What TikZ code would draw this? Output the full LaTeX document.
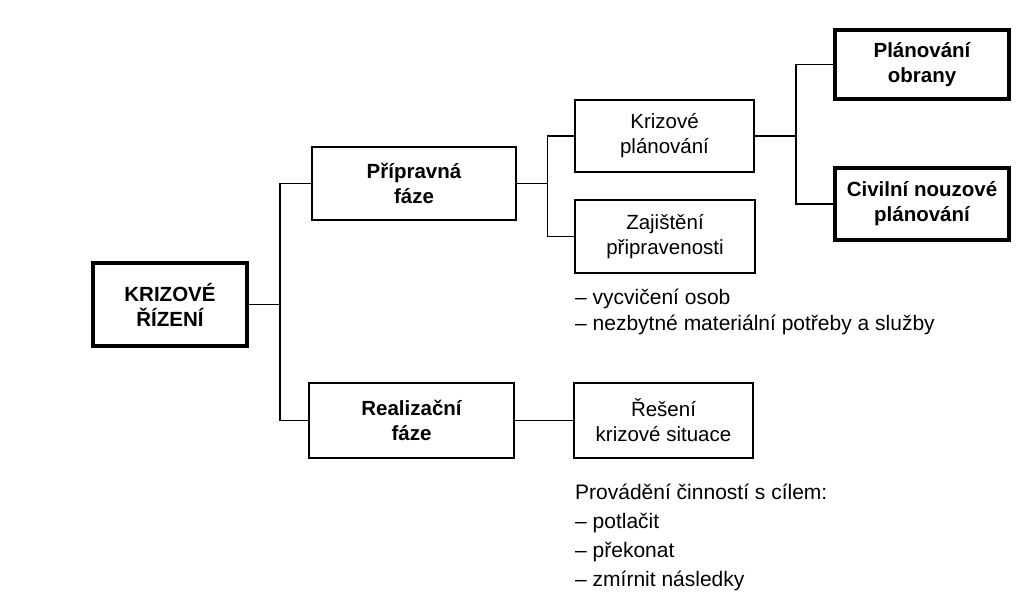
\documentclass[tikz,border=0pt]{standalone}
\usepackage{fontspec}
\setmainfont{Liberation Sans}
\begin{document}
\begin{tikzpicture}[x=1pt, y=-1pt,
    box/.style={draw, line width=2pt, align=center, inner sep=0pt,
                font=\fontsize{20.5}{25}\selectfont},
    phasebox/.style={box, line width=2.6pt, font=\fontsize{20.5}{25}\selectfont\bfseries},
    heavybox/.style={box, line width=3.4pt, font=\fontsize{20.5}{25}\selectfont\bfseries},
    notes/.style={align=left, anchor=north west, inner sep=0pt,
                  font=\fontsize{21}{29}\selectfont},
    link/.style={line width=1.6pt}]
\path [use as bounding box, fill=white] (0,0) rectangle (1028,592); % page frame
\node [heavybox, line width=4pt, minimum width=154pt, minimum height=83pt] (rizeni) at (170,304.5) {KRIZOVÉ\\ŘÍZENÍ};
\node [phasebox, minimum width=204pt, minimum height=73pt] (priprava) at (414,183.5) {Přípravná\\fáze};
\node [phasebox, minimum width=205pt, minimum height=75pt] (realizace) at (411.5,420.5) {Realizační\\fáze};
\node [box, minimum width=179pt, minimum height=72pt] (planovani) at (664.5,136) {Krizové\\plánování};
\node [box, minimum width=180pt, minimum height=73pt] (zajisteni) at (665,236.5) {Zajištění\\připravenosti};
\node [box, minimum width=179pt, minimum height=75pt] (reseni) at (663.5,420.5) {Řešení\\krizové situace};
\node [heavybox, minimum width=174pt, minimum height=69pt] (obrana) at (922,64.5) {Plánování\\obrany};
\node [heavybox, minimum width=174pt, minimum height=72pt] (civilni) at (922,204) {Civilní nouzové\\plánování};
\node [notes, font=\fontsize{21}{26}\selectfont] (zajnotes) at (575,289) {– vycvičení osob\\– nezbytné materiální potřeby a služby};
\node [notes] (resnotes) at (575,484) {Provádění činností s cílem:\\– potlačit\\– překonat\\– zmírnit následky};
% connectors
\draw [link] (rizeni.east) -- ++(31,0) coordinate (fork1);
\draw [link] (priprava.west) -| (fork1) |- (realizace.west);
\draw [link] (priprava.east) -- ++(30,0) coordinate (fork2);
\draw [link] (planovani.west) -| (fork2) |- (zajisteni.west);
\draw [link] (planovani.east) -- ++(41,0) coordinate (fork3);
\draw [link] (obrana.west) -| (fork3) |- (civilni.west);
\draw [link] (realizace) -- (reseni);
\end{tikzpicture}
\end{document}
